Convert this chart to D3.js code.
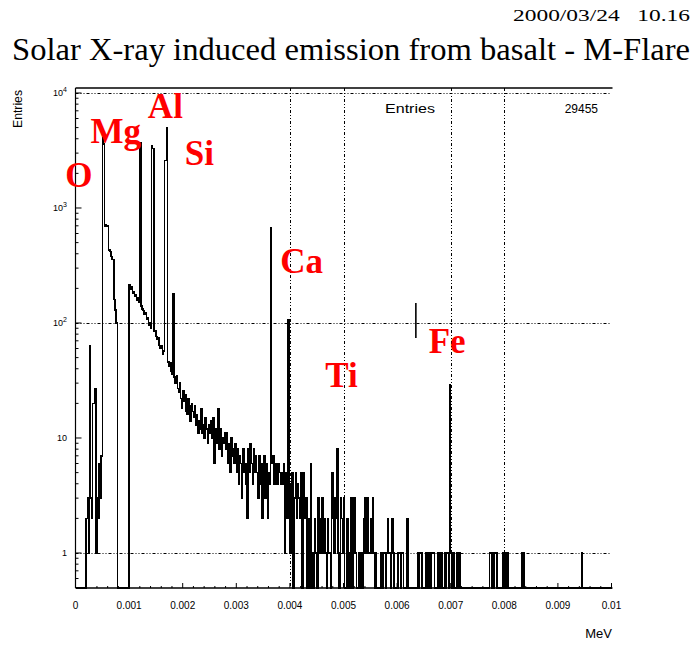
<!DOCTYPE html>
<html>
<head>
<meta charset="utf-8">
<title>Solar X-ray induced emission from basalt - M-Flare</title>
<script src="https://d3js.org/d3.v7.min.js"></script>
<style>
	body { margin: 0; background: white; }
	svg { display: block; }
	.serif { font-family: "Liberation Serif", "Times New Roman", serif; }
	.sans { font-family: "Liberation Sans", Arial, sans-serif; }
	.elem { font-family: "Liberation Serif", serif; font-weight: bold; fill: #ff0000; }
	.grid { stroke: #000; stroke-width: 1; stroke-dasharray: 3,2,1,2,1,2; fill: none; }
</style>
</head>
<body>
<script>
var width = 695, height = 648;

// histogram: 500 bins of 20 eV from 0 to 0.01 MeV
var binWidth = 0.00002;
// bins 0-49 : low energy noise + O line
var lowCounts = [0,0,0,0,0,0,0,0,0,0, 2,3,1,63,3,2,20,20,27,1,
	3,2,6,3,7,4100,3600,700,710,690, 700,430,420,380,355,355,160,130,100,0,
	0,0,0,0,0,0,0,0,0,0];
// bins 50-199 : continuum with Mg, Al, Si, Ca lines
var contCounts = [215,198,205,180,188,170,176,158,165,150,
	3700,140,132,128,118,122,108,112,96,100,
	90,3500,3300,84,86,76,72,74,64,60,
	63,54,57,2600,2600,5000,46,42,45,38,
	36,180,34,30,35,27,25,30,22,18,
	26,21,24,17,16,22,19,14,20,17,
	15,19,13,16,11,14,12,18,11,13,
	10,15,12,9,13,11,14,10,15,6,
	12,9,11,18,8,12,7,10,9,11,
	8,11,6,9,5,10,7,8,6,9,
	5,8,4,7,6,3,8,5,6,4,
	2,8,5,9,6,4,8,5,7,5,
	3,7,4,6,2,5,7,3,6,2,
	5,4,680,6,7,4,6,5,4,6,
	5,4,5,4,6,1,5,2,107,3];
// bins 200-499 : sparse tail with Fe line
var tailCounts = [1,4,5,0,3,5,2,4,3,2, 5,0,5,3,2,3,0,2,0,6,
	0,1,0,2,1,0,3,1,2,1, 3,1,2,1,0,2,1,1,0,5,
	2,1,3,2,8,1,0,3,2,1, 3,0,0,2,0,0,1,3,0,1,
	3,1,0,0,1,0,1,0,1,2, 3,1,3,1,1,2,1,3,1,0,
	1,0,0,0,0,1,0,1,1,0, 1,2,1,1,0,2,1,0,0,0,
	0,1,1,0,1,1,0,0,0,2, 0,0,0,0,0,0,0,0,0,1,
	0,1,1,0,0,0,0,1,1,0, 1,0,1,1,1,0,0,0,1,0,
	1,1,0,0,1,0,1,1,0,29, 1,0,1,0,0,0,1,0,1,0,
	0,0,0,0,0,0,0,0,0,0, 0,0,0,0,0,0,0,0,0,0,
	0,0,0,0,0,0,1,1,0,1, 0,1,1,0,0,0,0,0,0,1,
	0,1,0,1,0,0,0,0,0,0, 0,0,0,0,0,0,1,0,1,0,
	0,0,0,0,0,0,0,0,0,0, 0,0,0,0,0,0,0,0,0,0,
	0,0,0,0,0,0,0,0,0,0, 0,0,0,0,0,0,0,0,0,0,
	0,0,0,0,0,0,0,0,0,0, 0,0,1,0,0,0,0,0,0,0,
	0,0,0,0,0,0,0,0,0,0, 0,0,0,0,0,0,0,0,0,0];

var xTicks = [0, 0.001, 0.002, 0.003, 0.004, 0.005, 0.006, 0.007, 0.008, 0.009, 0.01];
var xTickLabels = ["0", "0.001", "0.002", "0.003", "0.004", "0.005", "0.006", "0.007", "0.008", "0.009", "0.01"];
var yDecades = [1, 10, 100, 1000, 10000];
var yExponents = ["", "", "2", "3", "4"];
var gridYValues = [1, 100, 10000];
var gridXValues = [0.004, 0.005, 0.007, 0.008];

var elemNames = ["O", "Mg", "Al", "Si", "Ca", "Ti", "Fe"];
var elemE = [-0.00019, 0.00028, 0.00135, 0.00204, 0.00382, 0.00466, 0.00659];
var elemN = [1520, 3680, 6060, 2370, 272, 28, 55];

var feMarkE = 0.00635;
var feMarkN = [74, 149];
var entries = 29455;

var titleText = "Solar X-ray induced emission from basalt - M-Flare";
var dateText = "2000/03/24   10.16";

// frame
var fLeft = 75.5, fRight = 611.5, fTop = 88, fBottom = 588;

var svg = d3.select("body").append("svg")
	.attr("width", width).attr("height", height);
svg.append("rect").attr("width", width).attr("height", height).attr("fill", "white");

var x = d3.scaleLinear().domain([0, 0.01]).range([fLeft, fRight]);
var y = d3.scaleLog().domain([0.4962, 11050]).range([fBottom, fTop]);

// grid
svg.selectAll(".gy").data(gridYValues).enter().append("line")
	.attr("class", "grid")
	.attr("x1", fLeft).attr("x2", fRight)
	.attr("y1", function(d) { return Math.round(y(d)) + 0.5; })
	.attr("y2", function(d) { return Math.round(y(d)) + 0.5; });
svg.selectAll(".gx").data(gridXValues).enter().append("line")
	.attr("class", "grid")
	.attr("x1", function(d) { return Math.round(x(d)) + 0.5; })
	.attr("x2", function(d) { return Math.round(x(d)) + 0.5; })
	.attr("y1", fTop).attr("y2", fBottom);

// histogram outline
var counts = lowCounts.concat(contCounts, tailCounts);
var pts = [[0, 0]];
counts.forEach(function(c, i) {
	pts.push([i * binWidth, c]);
	pts.push([(i + 1) * binWidth, c]);
});
pts.push([counts.length * binWidth, 0]);
var line = d3.line()
	.x(function(d) { return x(d[0]); })
	.y(function(d) { return d[1] > 0 ? y(d[1]) : fBottom; });
svg.append("path").datum(pts)
	.attr("d", line)
	.attr("fill", "none").attr("stroke", "#000").attr("stroke-width", 1.5)
	.attr("shape-rendering", "crispEdges");

// short marker near Fe
svg.append("line")
	.attr("x1", x(feMarkE)).attr("x2", x(feMarkE))
	.attr("y1", y(feMarkN[0])).attr("y2", y(feMarkN[1]))
	.attr("stroke", "#000").attr("stroke-width", 1.6);

// axes lines
svg.append("line").attr("x1", fLeft).attr("x2", fLeft).attr("y1", fTop).attr("y2", fBottom)
	.attr("stroke", "#000").attr("stroke-width", 1.2);
svg.append("line").attr("x1", fLeft).attr("x2", fRight + 1).attr("y1", fBottom).attr("y2", fBottom)
	.attr("stroke", "#000").attr("stroke-width", 1.4);
svg.append("line").attr("x1", fLeft).attr("x2", fRight + 1).attr("y1", fTop).attr("y2", fTop)
	.attr("stroke", "#000").attr("stroke-width", 1.4);

// x ticks (major + minor), pointing up
var xMinor = d3.range(0, 51).map(function(i) { return i * 0.0002; });
svg.selectAll(".xminor").data(xMinor).enter().append("line")
	.attr("x1", function(d) { return x(d); }).attr("x2", function(d) { return x(d); })
	.attr("y1", fBottom).attr("y2", function(d, i) { return fBottom - (i % 5 == 0 ? 5 : 2); })
	.attr("stroke", "#000").attr("stroke-width", 1);
svg.selectAll(".xlab").data(xTicks).enter().append("text")
	.attr("class", "sans")
	.attr("x", function(d) { return x(d); }).attr("y", 609)
	.attr("text-anchor", "middle").attr("font-size", 10)
	.text(function(d, i) { return xTickLabels[i]; });

// y ticks (log), pointing right
var yMinor = [];
[0.1, 1, 10, 100, 1000].forEach(function(dec) {
	for (var k = 1; k < 10; k++) {
		var v = dec * k;
		if (v >= 0.4962 && v <= 11050) yMinor.push(v);
	}
});
yMinor.push(10000);
svg.selectAll(".yminor").data(yMinor).enter().append("line")
	.attr("x1", fLeft).attr("x2", function(d) { return yDecades.indexOf(d) >= 0 ? fLeft + 6 : fLeft + 3; })
	.attr("y1", function(d) { return y(d); }).attr("y2", function(d) { return y(d); })
	.attr("stroke", "#000").attr("stroke-width", 1);
var ylab = svg.selectAll(".ylab").data(yDecades).enter().append("text")
	.attr("class", "sans")
	.attr("x", 67).attr("y", function(d) { return y(d) + 3; })
	.attr("text-anchor", "end").attr("font-size", 9);
ylab.append("tspan").text(function(d, i) { return i == 0 ? "1" : "10"; });
ylab.append("tspan").attr("dy", -4).attr("font-size", 7)
	.text(function(d, i) { return yExponents[i]; });

// axis titles
svg.append("text").attr("class", "sans")
	.attr("transform", "translate(22,90) rotate(-90)")
	.attr("text-anchor", "end").attr("font-size", 13)
	.attr("textLength", 38).attr("lengthAdjust", "spacingAndGlyphs")
	.text("Entries");
svg.append("text").attr("class", "sans")
	.attr("x", 612).attr("y", 638).attr("text-anchor", "end").attr("font-size", 13)
	.text("MeV");

// stats
svg.append("text").attr("class", "sans")
	.attr("x", 385).attr("y", 113).attr("font-size", 12)
	.attr("textLength", 50).attr("lengthAdjust", "spacingAndGlyphs")
	.text("Entries");
svg.append("text").attr("class", "sans")
	.attr("x", 598).attr("y", 113).attr("font-size", 12).attr("text-anchor", "end")
	.text(entries);

// title + date
svg.append("text").attr("class", "serif")
	.attr("x", 12).attr("y", 60).attr("font-size", 31)
	.attr("textLength", 678).attr("lengthAdjust", "spacingAndGlyphs")
	.text(titleText);
svg.append("text").attr("class", "serif")
	.attr("x", 513).attr("y", 21).attr("font-size", 16)
	.attr("textLength", 177).attr("lengthAdjust", "spacingAndGlyphs")
	.style("white-space", "pre")
	.text(dateText);

// element labels
svg.selectAll(".elem").data(elemNames).enter().append("text")
	.attr("class", "elem")
	.attr("x", function(d, i) { return x(elemE[i]); })
	.attr("y", function(d, i) { return y(elemN[i]); })
	.attr("font-size", 35)
	.text(function(d) { return d; });
</script>
</body>
</html>
